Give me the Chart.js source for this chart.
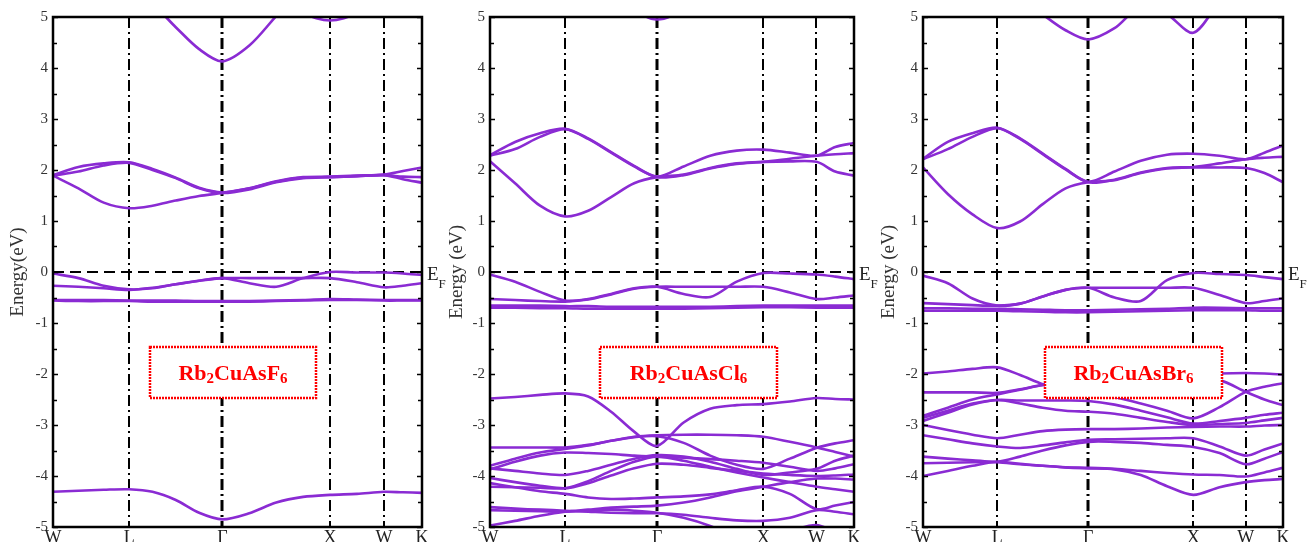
<!DOCTYPE html>
<html>
<head>
<meta charset="utf-8">
<script src="https://cdn.jsdelivr.net/npm/chart.js@4.4.1/dist/chart.umd.min.js"></script>
<style>
html,body{margin:0;padding:0;background:#fff;}
#wrap{position:relative;width:1309px;height:542px;overflow:hidden;background:#fff;}
canvas{position:absolute;left:0;top:0;}
</style>
</head>
<body>
<div id="wrap">
<canvas id="c1" width="1309" height="542"></canvas>
<canvas id="c2" width="1309" height="542"></canvas>
<canvas id="c3" width="1309" height="542"></canvas>
</div>
<script>
// ---- k-path (high-symmetry points) ----
const kPath   = [0, 0.7071, 1.5731, 2.5731, 3.0731, 3.4267];
const kLabels = ['W', 'L', 'Γ', 'X', 'W', 'K'];
// k positions at which band energies were read
const kGrid = [0, 0.236, 0.471, 0.7071, 0.924, 1.140, 1.357, 1.5731,
               1.823, 2.073, 2.323, 2.5731, 2.823, 3.0731, 3.25, 3.4267];
const yTicks = [-5, -4, -3, -2, -1, 0, 1, 2, 3, 4, 5];

// ---- Rb2CuAsF6 bands (eV) ----
const bandsF = [
  [5.9, 5.8, 5.6, 5.5, 5.25, 4.80, 4.37, 4.13, 4.44, 5.02, 5.6, 5.9, 5.9, 5.9, 5.9, 5.9],
  [null, null, null, null, null, null, null, null, null, 5.5, 5.08, 4.93, 5.08, 5.5, null, null],
  [1.89, 1.64, 1.36, 1.25, 1.30, 1.40, 1.49, 1.55, 1.64, 1.77, 1.85, 1.86, 1.88, 1.90, 1.82, 1.75],
  [1.89, 1.97, 2.09, 2.14, 2.00, 1.84, 1.64, 1.55, 1.62, 1.76, 1.84, 1.86, 1.88, 1.90, 1.87, 1.86],
  [1.90, 2.06, 2.13, 2.15, 2.02, 1.85, 1.65, 1.56, 1.64, 1.78, 1.86, 1.87, 1.89, 1.91, 1.98, 2.05],
  [-0.03, -0.12, -0.27, -0.34, -0.32, -0.24, -0.17, -0.12, -0.22, -0.29, -0.12, 0.0, -0.01, -0.01, -0.03, -0.06],
  [-0.27, -0.29, -0.32, -0.35, -0.31, -0.24, -0.17, -0.12, -0.12, -0.12, -0.12, -0.12, -0.20, -0.30, -0.27, -0.22],
  [-0.55, -0.55, -0.55, -0.56, -0.56, -0.56, -0.57, -0.57, -0.57, -0.56, -0.55, -0.53, -0.54, -0.55, -0.55, -0.55],
  [-0.56, -0.57, -0.57, -0.57, -0.58, -0.58, -0.58, -0.58, -0.58, -0.57, -0.56, -0.55, -0.55, -0.56, -0.56, -0.56],
  [-4.31, -4.29, -4.27, -4.26, -4.31, -4.47, -4.72, -4.85, -4.73, -4.52, -4.41, -4.37, -4.35, -4.31, -4.32, -4.33]
];

// ---- Rb2CuAsCl6 bands (eV) ----
const bandsCl = [
  [null, null, null, null, null, 5.6, 5.15, 4.95, 5.15, 5.6, null, null, null, null, null, null],
  [2.17, 1.74, 1.30, 1.09, 1.20, 1.47, 1.74, 1.86, 1.91, 2.04, 2.13, 2.16, 2.17, 2.16, 1.97, 1.89],
  [2.28, 2.41, 2.65, 2.80, 2.61, 2.34, 2.07, 1.86, 1.90, 2.03, 2.12, 2.16, 2.22, 2.28, 2.31, 2.33],
  [2.29, 2.55, 2.72, 2.81, 2.62, 2.35, 2.08, 1.87, 2.07, 2.28, 2.38, 2.40, 2.34, 2.28, 2.45, 2.53],
  [-0.05, -0.19, -0.39, -0.56, -0.53, -0.43, -0.32, -0.29, -0.43, -0.49, -0.19, -0.02, -0.03, -0.05, -0.09, -0.14],
  [-0.53, -0.55, -0.57, -0.58, -0.54, -0.44, -0.33, -0.29, -0.29, -0.29, -0.29, -0.29, -0.40, -0.53, -0.50, -0.46],
  [-0.66, -0.66, -0.66, -0.67, -0.67, -0.68, -0.68, -0.68, -0.68, -0.68, -0.67, -0.66, -0.66, -0.66, -0.66, -0.66],
  [-0.70, -0.70, -0.71, -0.71, -0.72, -0.72, -0.72, -0.72, -0.72, -0.71, -0.70, -0.69, -0.69, -0.70, -0.70, -0.70],
  [-2.48, -2.45, -2.41, -2.38, -2.44, -2.74, -3.13, -3.41, -2.95, -2.68, -2.61, -2.59, -2.54, -2.47, -2.49, -2.50],
  [-3.44, -3.44, -3.44, -3.44, -3.39, -3.31, -3.23, -3.20, -3.19, -3.19, -3.20, -3.23, -3.33, -3.44, -3.53, -3.62],
  [-3.80, -3.66, -3.54, -3.47, -3.40, -3.31, -3.24, -3.22, -3.35, -3.60, -3.78, -3.86, -3.66, -3.45, -3.36, -3.30],
  [-3.87, -3.72, -3.60, -3.54, -3.55, -3.57, -3.60, -3.62, -3.64, -3.67, -3.70, -3.74, -3.82, -3.90, -3.85, -3.77],
  [-4.04, -4.12, -4.19, -4.24, -4.14, -3.99, -3.85, -3.76, -3.78, -3.84, -3.90, -3.95, -3.98, -4.00, -3.99, -3.97],
  [-4.14, -4.22, -4.30, -4.35, -4.42, -4.45, -4.44, -4.42, -4.40, -4.36, -4.28, -4.21, -4.35, -4.65, -4.58, -4.51],
  [-4.61, -4.64, -4.66, -4.68, -4.70, -4.72, -4.73, -4.73, -4.76, -4.82, -4.87, -4.88, -4.82, -4.67, -4.70, -4.75],
  [-4.67, -4.68, -4.69, -4.70, -4.68, -4.66, -4.68, -4.72, -4.82, -4.98, -5.2, -5.4, null, null, null, null],
  [-4.97, -4.88, -4.78, -4.70, -4.66, -4.62, -4.60, -4.58, -4.52, -4.42, -4.30, -4.21, -4.12, -4.05, -4.05, -4.07],
  [-4.21, -4.22, -4.23, -4.24, -4.10, -3.90, -3.72, -3.62, -3.70, -3.82, -3.93, -4.03, -4.12, -4.21, -4.26, -4.31],
  [-3.85, -3.90, -3.95, -3.98, -3.90, -3.78, -3.66, -3.59, -3.62, -3.72, -3.86, -3.98, -3.93, -3.86, -3.70, -3.60],
  [null, null, null, null, null, null, null, null, null, null, null, -5.3, -5.08, -4.96, -5.1, -5.3]
];

// ---- Rb2CuAsBr6 bands (eV) ----
const bandsBr = [
  [5.9, 5.8, 5.7, 5.6, 5.4, 5.05, 4.74, 4.56, 4.78, 5.2, 5.05, 4.69, 5.3, 5.8, 5.9, 5.9],
  [2.05, 1.53, 1.13, 0.86, 0.99, 1.33, 1.64, 1.76, 1.80, 1.94, 2.03, 2.05, 2.05, 2.04, 1.94, 1.76],
  [2.21, 2.41, 2.65, 2.82, 2.61, 2.31, 2.01, 1.76, 1.81, 1.95, 2.04, 2.06, 2.13, 2.21, 2.24, 2.26],
  [2.22, 2.55, 2.72, 2.83, 2.62, 2.32, 2.02, 1.77, 1.97, 2.18, 2.30, 2.32, 2.28, 2.21, 2.34, 2.48],
  [-0.07, -0.22, -0.52, -0.66, -0.62, -0.48, -0.35, -0.31, -0.50, -0.57, -0.16, -0.02, -0.04, -0.06, -0.10, -0.14],
  [-0.61, -0.63, -0.65, -0.66, -0.62, -0.48, -0.35, -0.31, -0.31, -0.31, -0.31, -0.31, -0.45, -0.61, -0.57, -0.52],
  [-0.71, -0.71, -0.72, -0.72, -0.73, -0.74, -0.75, -0.75, -0.74, -0.73, -0.72, -0.70, -0.70, -0.71, -0.71, -0.71],
  [-0.76, -0.76, -0.76, -0.76, -0.77, -0.78, -0.79, -0.79, -0.78, -0.77, -0.76, -0.75, -0.75, -0.75, -0.76, -0.76],
  [-1.99, -1.95, -1.90, -1.87, -2.02, -2.20, -2.33, -2.38, -2.33, -2.20, -2.08, -2.02, -1.99, -1.98, -1.99, -2.01],
  [-2.36, -2.36, -2.36, -2.37, -2.30, -2.21, -2.15, -2.12, -2.10, -2.08, -2.08, -2.10, -2.12, -2.35, -2.50, -2.61],
  [-2.82, -2.66, -2.50, -2.40, -2.31, -2.22, -2.25, -2.35, -2.45, -2.58, -2.72, -2.87, -2.65, -2.35, -2.25, -2.18],
  [-2.86, -2.72, -2.58, -2.51, -2.52, -2.52, -2.52, -2.53, -2.60, -2.72, -2.85, -2.97, -2.92, -2.86, -2.80, -2.76],
  [-2.92, -2.76, -2.60, -2.51, -2.58, -2.66, -2.72, -2.74, -2.78, -2.86, -2.94, -3.00, -2.98, -2.96, -2.91, -2.86],
  [-3.00, -3.10, -3.19, -3.26, -3.19, -3.12, -3.09, -3.08, -3.08, -3.07, -3.05, -3.04, -3.03, -3.03, -3.01, -3.00],
  [-3.20, -3.28, -3.36, -3.42, -3.45, -3.40, -3.34, -3.29, -3.28, -3.27, -3.26, -3.26, -3.42, -3.60, -3.48, -3.36],
  [-3.62, -3.66, -3.69, -3.72, -3.62, -3.50, -3.40, -3.33, -3.33, -3.35, -3.39, -3.43, -3.55, -3.77, -3.66, -3.53],
  [-3.75, -3.74, -3.73, -3.73, -3.77, -3.80, -3.83, -3.84, -3.86, -3.90, -3.94, -3.97, -3.98, -4.01, -3.93, -3.84],
  [-4.00, -3.90, -3.80, -3.72, -3.76, -3.80, -3.83, -3.85, -3.87, -3.98, -4.20, -4.37, -4.22, -4.12, -4.08, -4.06]
];

const formulas   = ['Rb2CuAsF6', 'Rb2CuAsCl6', 'Rb2CuAsBr6'];
const axisTitles = ['Energy(eV)', 'Energy (eV)', 'Energy (eV)'];

// ---------------------------------------------------------------
const PURPLE = '#8a2bd3';
const SERIF = "'Liberation Serif', 'Times New Roman', serif";

function drawFormula(ctx, txt, cx, baseline) {
  const big = "bold 22px " + SERIF, small = "bold 15px " + SERIF;
  const parts = txt.split('').map(ch => ({ch, sub: /[0-9]/.test(ch)}));
  let w = 0;
  parts.forEach(p => { ctx.font = p.sub ? small : big; p.w = ctx.measureText(p.ch).width; w += p.w; });
  let xx = cx - w / 2;
  ctx.fillStyle = '#ff0000';
  ctx.textAlign = 'left';
  ctx.textBaseline = 'alphabetic';
  parts.forEach(p => {
    ctx.font = p.sub ? small : big;
    ctx.fillText(p.ch, xx, baseline + (p.sub ? 3 : 0));
    xx += p.w;
  });
}

const decorPlugin = {
  id: 'decor',
  beforeDatasetsDraw(chart, args, o) {
    const {ctx, chartArea: a, scales: {x, y}} = chart;
    ctx.save();
    ctx.beginPath();
    ctx.rect(a.left, a.top, a.right - a.left, a.bottom - a.top);
    ctx.clip();
    ctx.strokeStyle = '#000';
    kPath.slice(1, -1).forEach((k, i) => {
      const px = Math.round(x.getPixelForValue(k));
      ctx.lineWidth = (i === 1) ? 3 : 2;
      ctx.setLineDash([11, 4, 2, 4]);
      ctx.beginPath(); ctx.moveTo(px, a.top); ctx.lineTo(px, a.bottom); ctx.stroke();
    });
    const py = Math.round(y.getPixelForValue(0));
    ctx.setLineDash([11, 6]);
    ctx.lineWidth = 2;
    ctx.beginPath(); ctx.moveTo(a.left, py); ctx.lineTo(a.right, py); ctx.stroke();
    ctx.restore();
  },
  afterDatasetsDraw(chart, args, o) {
    const {ctx, chartArea: a, scales: {x, y}} = chart;
    ctx.save();
    // label box
    const b = o.box;
    ctx.fillStyle = '#fff';
    ctx.fillRect(b.x, b.y, b.w, b.h);
    ctx.strokeStyle = '#ff0000';
    ctx.lineWidth = 2.5;
    ctx.setLineDash([2, 1]);
    ctx.strokeRect(b.x, b.y, b.w, b.h);
    ctx.setLineDash([]);
    drawFormula(ctx, o.formula, b.x + b.w / 2, b.y + 33);
    // frame
    ctx.strokeStyle = '#000';
    ctx.lineWidth = 2.5;
    ctx.strokeRect(a.left, a.top, a.right - a.left, a.bottom - a.top);
    // inward ticks every 0.5 eV on both sides
    ctx.lineWidth = 1.5;
    for (let v = -5; v <= 5; v += 0.5) {
      const py = Math.round(y.getPixelForValue(v)) + 0.5;
      const len = Number.isInteger(v) ? 5 : 4;
      ctx.beginPath();
      ctx.moveTo(a.left, py); ctx.lineTo(a.left + len, py);
      ctx.moveTo(a.right, py); ctx.lineTo(a.right - len, py);
      ctx.stroke();
    }
    // axis title
    ctx.fillStyle = '#333';
    ctx.font = "19px " + SERIF;
    ctx.textAlign = 'center';
    ctx.textBaseline = 'middle';
    ctx.save();
    ctx.translate(o.titleX, y.getPixelForValue(0));
    ctx.rotate(-Math.PI / 2);
    ctx.fillText(o.title, 0, 0);
    ctx.restore();
    // E_F label
    const py0 = y.getPixelForValue(0);
    ctx.fillStyle = '#222';
    ctx.textAlign = 'left';
    ctx.textBaseline = 'alphabetic';
    ctx.font = "19px " + SERIF;
    ctx.fillText('E', a.right + 5, py0 + 8);
    const ew = ctx.measureText('E').width;
    ctx.font = "13px " + SERIF;
    ctx.fillText('F', a.right + 5 + ew, py0 + 16);
    ctx.restore();
  }
};

function makeChart(id, bands, left, right, cfg) {
  const datasets = bands.map(b => ({
    data: kGrid.map((k, i) => ({x: k, y: b[i]})),
    borderColor: PURPLE,
    borderWidth: 2.6,
    pointRadius: 0,
    tension: 0.3,
    spanGaps: false,
    fill: false
  }));
  return new Chart(document.getElementById(id), {
    type: 'line',
    data: {datasets},
    plugins: [decorPlugin],
    options: {
      responsive: false,
      animation: false,
      devicePixelRatio: 1,
      events: [],
      layout: {padding: {left: left - 50, right: 1309 - right, top: 17, bottom: 0}},
      plugins: {
        legend: {display: false},
        tooltip: {enabled: false},
        decor: cfg
      },
      scales: {
        x: {
          type: 'linear',
          min: kPath[0],
          max: kPath[kPath.length - 1],
          afterBuildTicks: s => { s.ticks = kPath.map(v => ({value: v})); },
          afterFit: s => { s.height = 15; },
          grid: {display: false, drawTicks: false},
          border: {display: false},
          ticks: {
            autoSkip: false, maxRotation: 0, minRotation: 0, padding: 0,
            color: '#222',
            font: {family: SERIF, size: 18},
            callback: (v, i) => kLabels[i]
          }
        },
        y: {
          type: 'linear',
          min: yTicks[0],
          max: yTicks[yTicks.length - 1],
          afterBuildTicks: s => { s.ticks = yTicks.map(v => ({value: v})); },
          afterFit: s => { s.width = 50; },
          grid: {display: false, drawTicks: false},
          border: {display: false},
          ticks: {
            padding: 5,
            color: '#333',
            font: {family: SERIF, size: 15}
          }
        }
      }
    }
  });
}

makeChart('c1', bandsF, 53, 422, {
  formula: formulas[0], title: axisTitles[0], titleX: 18,
  box: {x: 150, y: 347, w: 166, h: 51}
});
makeChart('c2', bandsCl, 490, 854, {
  formula: formulas[1], title: axisTitles[1], titleX: 457,
  box: {x: 600, y: 347, w: 177, h: 51}
});
makeChart('c3', bandsBr, 923, 1283, {
  formula: formulas[2], title: axisTitles[2], titleX: 889,
  box: {x: 1045, y: 347, w: 177, h: 51}
});
</script>
</body>
</html>
